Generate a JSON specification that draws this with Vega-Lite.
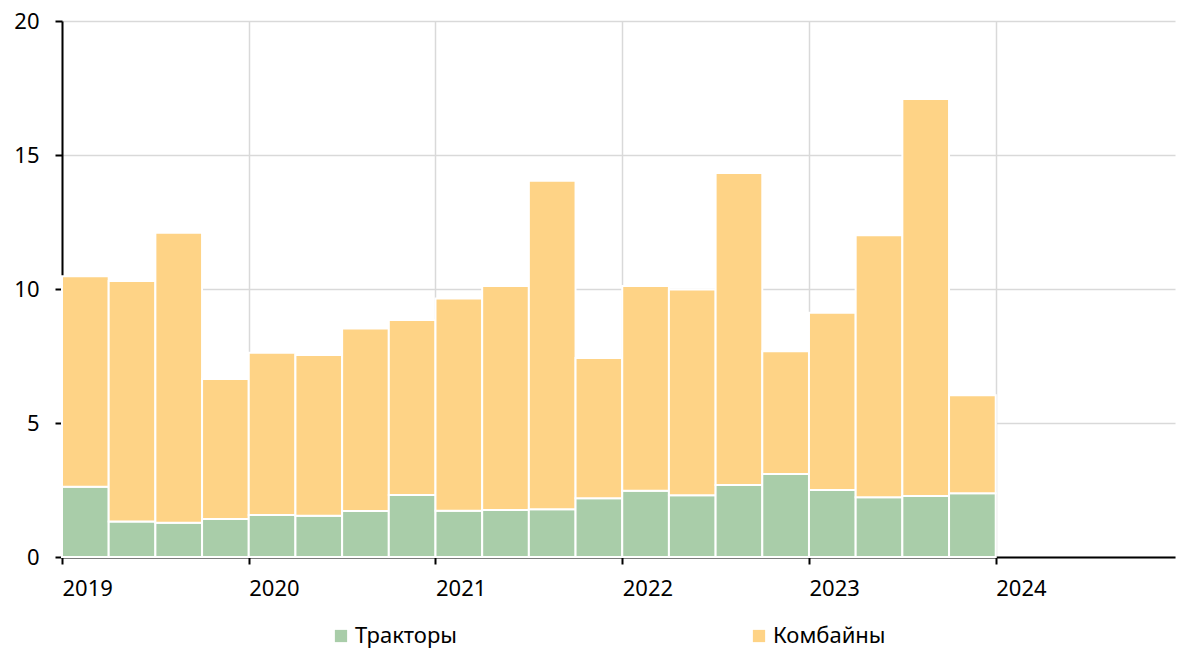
{
  "$schema": "https://vega.github.io/schema/vega-lite/v6.json",
  "width": 1113,
  "height": 536,
  "autosize": {"type": "none"},
  "padding": {"left": 62, "top": 21, "right": 2, "bottom": 91},
  "background": "white",
  "config": {
    "view": {"stroke": null},
    "font": "Noto Sans",
    "axis": {
      "domainColor": "#000000",
      "domainWidth": 2,
      "tickColor": "#000000",
      "tickWidth": 2,
      "tickSize": 7,
      "gridColor": "#d9d9d9",
      "gridWidth": 1.5,
      "labelFont": "Noto Sans",
      "labelFontSize": 22,
      "labelColor": "#000000",
      "title": null
    }
  },
  "data": {
    "values": [
      {"from": 2019.0, "to": 2019.25, "series": "Тракторы", "value": 2.62},
      {"from": 2019.0, "to": 2019.25, "series": "Комбайны", "value": 7.86},
      {"from": 2019.25, "to": 2019.5, "series": "Тракторы", "value": 1.32},
      {"from": 2019.25, "to": 2019.5, "series": "Комбайны", "value": 8.98},
      {"from": 2019.5, "to": 2019.75, "series": "Тракторы", "value": 1.28},
      {"from": 2019.5, "to": 2019.75, "series": "Комбайны", "value": 10.82},
      {"from": 2019.75, "to": 2020.0, "series": "Тракторы", "value": 1.42},
      {"from": 2019.75, "to": 2020.0, "series": "Комбайны", "value": 5.22},
      {"from": 2020.0, "to": 2020.25, "series": "Тракторы", "value": 1.57},
      {"from": 2020.0, "to": 2020.25, "series": "Комбайны", "value": 6.05},
      {"from": 2020.25, "to": 2020.5, "series": "Тракторы", "value": 1.54},
      {"from": 2020.25, "to": 2020.5, "series": "Комбайны", "value": 6.0},
      {"from": 2020.5, "to": 2020.75, "series": "Тракторы", "value": 1.72},
      {"from": 2020.5, "to": 2020.75, "series": "Комбайны", "value": 6.81},
      {"from": 2020.75, "to": 2021.0, "series": "Тракторы", "value": 2.31},
      {"from": 2020.75, "to": 2021.0, "series": "Комбайны", "value": 6.53},
      {"from": 2021.0, "to": 2021.25, "series": "Тракторы", "value": 1.73},
      {"from": 2021.0, "to": 2021.25, "series": "Комбайны", "value": 7.92},
      {"from": 2021.25, "to": 2021.5, "series": "Тракторы", "value": 1.75},
      {"from": 2021.25, "to": 2021.5, "series": "Комбайны", "value": 8.36},
      {"from": 2021.5, "to": 2021.75, "series": "Тракторы", "value": 1.78},
      {"from": 2021.5, "to": 2021.75, "series": "Комбайны", "value": 12.26},
      {"from": 2021.75, "to": 2022.0, "series": "Тракторы", "value": 2.19},
      {"from": 2021.75, "to": 2022.0, "series": "Комбайны", "value": 5.24},
      {"from": 2022.0, "to": 2022.25, "series": "Тракторы", "value": 2.47},
      {"from": 2022.0, "to": 2022.25, "series": "Комбайны", "value": 7.64},
      {"from": 2022.25, "to": 2022.5, "series": "Тракторы", "value": 2.3},
      {"from": 2022.25, "to": 2022.5, "series": "Комбайны", "value": 7.68},
      {"from": 2022.5, "to": 2022.75, "series": "Тракторы", "value": 2.69},
      {"from": 2022.5, "to": 2022.75, "series": "Комбайны", "value": 11.64},
      {"from": 2022.75, "to": 2023.0, "series": "Тракторы", "value": 3.1},
      {"from": 2022.75, "to": 2023.0, "series": "Комбайны", "value": 4.58},
      {"from": 2023.0, "to": 2023.25, "series": "Тракторы", "value": 2.5},
      {"from": 2023.0, "to": 2023.25, "series": "Комбайны", "value": 6.61},
      {"from": 2023.25, "to": 2023.5, "series": "Тракторы", "value": 2.23},
      {"from": 2023.25, "to": 2023.5, "series": "Комбайны", "value": 9.78},
      {"from": 2023.5, "to": 2023.75, "series": "Тракторы", "value": 2.28},
      {"from": 2023.5, "to": 2023.75, "series": "Комбайны", "value": 14.81},
      {"from": 2023.75, "to": 2024.0, "series": "Тракторы", "value": 2.38},
      {"from": 2023.75, "to": 2024.0, "series": "Комбайны", "value": 3.66}
    ]
  },
  "transform": [
    {
      "stack": "value",
      "groupby": ["from"],
      "sort": [{"field": "series", "order": "descending"}],
      "as": ["lo", "hi"]
    }
  ],
  "mark": {"type": "bar", "stroke": "#ffffff", "strokeWidth": 2},
  "encoding": {
    "x": {
      "field": "from",
      "type": "quantitative",
      "scale": {"domain": [2019, 2024.96], "nice": false, "zero": false},
      "axis": {
        "values": [2019, 2020, 2021, 2022, 2023, 2024],
        "format": "d",
        "labelAlign": "left",
        "labelBaseline": "top",
        "labelPadding": 14,
        "labelFlush": false,
        "labelBound": false,
        "labelOverlap": false,
        "grid": true
      }
    },
    "x2": {"field": "to"},
    "y": {
      "field": "hi",
      "type": "quantitative",
      "scale": {"domain": [0, 20], "nice": false},
      "axis": {
        "values": [0, 5, 10, 15, 20],
        "labelPadding": 16,
        "grid": true
      }
    },
    "y2": {"field": "lo"},
    "color": {
      "field": "series",
      "type": "nominal",
      "scale": {"domain": ["Тракторы", "Комбайны"], "range": ["#a9cda9", "#fed386"]},
      "legend": {
        "title": null,
        "orient": "none",
        "direction": "horizontal",
        "legendX": 268,
        "legendY": 604,
        "padding": 0,
        "symbolType": "square",
        "symbolSize": 150,
        "symbolStrokeWidth": 0,
        "labelFont": "Noto Sans",
        "labelFontSize": 22,
        "labelColor": "#000000",
        "labelOffset": 3,
        "columnPadding": 290
      }
    }
  }
}
